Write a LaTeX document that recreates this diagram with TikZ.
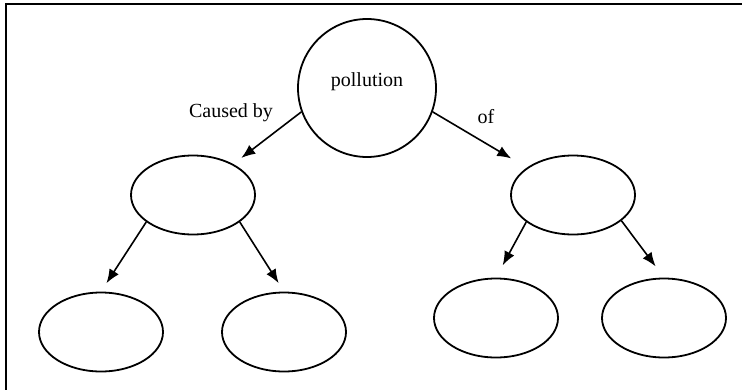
\documentclass[tikz,border=0pt]{standalone}
\usepackage{fontspec}
\setmainfont{Liberation Serif}
\usetikzlibrary{positioning,shapes,arrows.meta}

\begin{document}
\begin{tikzpicture}[x=0.5pt,y=-0.5pt,
    hub/.style={draw,circle,line width=0.9pt,minimum size=69pt,inner sep=0pt,font=\fontsize{10}{12}\selectfont},
    bubble/.style={draw,ellipse,line width=0.9pt,minimum width=62pt,minimum height=39.5pt,inner sep=0pt},
    link/.style={-{Latex[length=7pt,width=5.5pt]},line width=0.8pt},
    tag/.style={font=\fontsize{10}{12}\selectfont,inner sep=0pt}]
\useasboundingbox (0,0) rectangle (742,390);
% frame
\draw[line width=1pt] (5,4) -- (742,4);
\draw[line width=0.8pt] (6,4) -- (6,390);

\node[hub,text depth=8pt] (pollution) at (367,88) {pollution};
\node[bubble] (cause) at (193,195) {};
\node[bubble] (effect) at (573,195) {};
\node[bubble] (causeA) at (101,332) {};
\node[bubble] (causeB) at (284,332) {};
\node[bubble] (effectA) at (496,318) {};
\node[bubble] (effectB) at (664,318) {};

\node[tag] (causedby) at (231,113) {Caused by};
\node[tag] (of) at (486,117) {of};

\draw[link,shorten >=5pt] (pollution.200) -- (cause);
\draw[link,shorten >=9pt] (pollution.-20) -- (effect);
\draw[link,shorten >=5pt] (cause.210) -- (causeA.north);
\draw[link,shorten >=5pt] (cause.-30) -- (causeB.north);
\draw[link,shorten >=7pt] (effect.210) -- (effectA.north);
\draw[link,shorten >=7pt] (effect.-28) -- (effectB.north);
\end{tikzpicture}
\end{document}
